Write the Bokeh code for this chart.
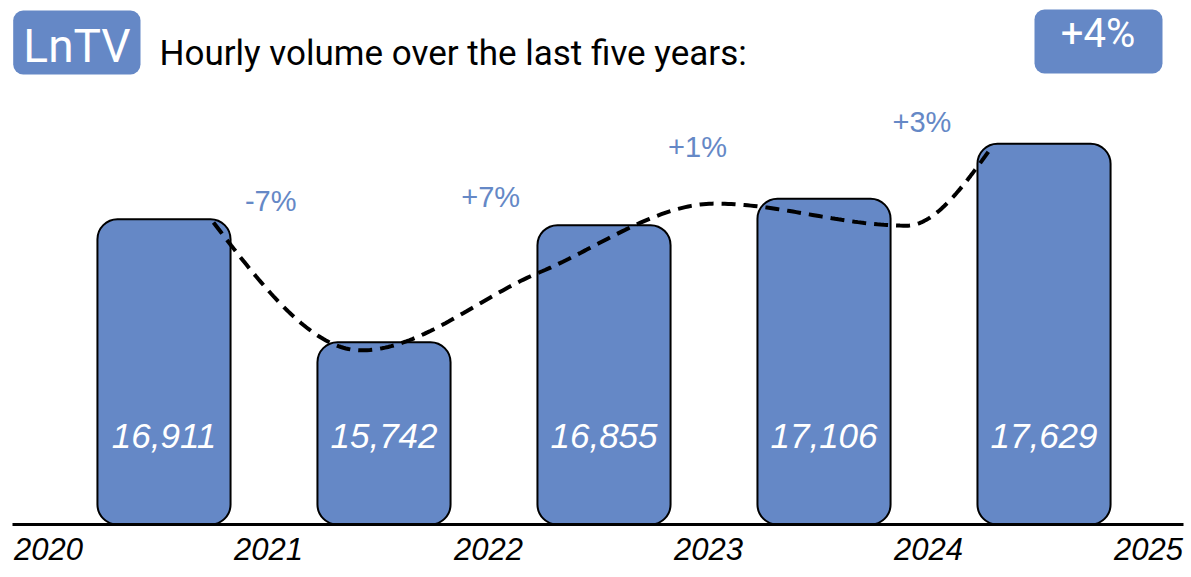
import numpy as np
from bokeh.plotting import figure
from bokeh.layouts import column
from bokeh.models import Range1d, FixedTicker, ColumnDataSource
from bokeh.core.properties import value
from bokeh.embed import file_html
from bokeh.resources import INLINE

# ---------------- data ----------------
years = ["2020", "2021", "2022", "2023", "2024", "2025"]
volumes = [16911, 15742, 16855, 17106, 17629]
brand = "LnTV"
title = "Hourly volume over the last five years:"
# trend curve knots (x in year units, y in hours)
trend_x = [0.75, 1.42, 2.23, 3.03, 3.90, 4.29]
trend_y = [16880, 15665, 16405, 17060, 16850, 17605]

# ---------------- layout / style ----------------
BLUE = "#6588C6"
W = 1191
HEAD_H = 90
MAIN_H = 484
LEFT, RIGHT = 12, 8
Y0 = 14010
bar_shift = 0.525
pct_pos_x = [1.01, 2.01, 2.95, 3.97]
pct_pos_y = [17085, 17120, 17596, 17833]

changes = [f"{round((volumes[i+1] / volumes[i] - 1) * 100):+d}%" for i in range(len(volumes) - 1)]
overall = f"{round((volumes[-1] / volumes[0] - 1) * 100):+d}%"


def monotone(xs, ys, n=60):
    xs = np.asarray(xs, float)
    ys = np.asarray(ys, float)
    h = np.diff(xs)
    s = np.diff(ys) / h
    m = np.zeros_like(xs)
    for i in range(1, len(xs) - 1):
        if s[i - 1] * s[i] <= 0:
            m[i] = 0.0
        else:
            p = (s[i - 1] * h[i] + s[i] * h[i - 1]) / (h[i - 1] + h[i])
            m[i] = 2 * np.sign(s[i]) * min(abs(s[i - 1]), abs(s[i]), 0.5 * abs(p))
    m[0] = (3 * s[0] - m[1]) / 2
    m[-1] = (3 * s[-1] - m[-2]) / 2
    ox, oy = [], []
    for i in range(len(xs) - 1):
        t = np.linspace(0, 1, n)
        h00 = 2 * t**3 - 3 * t**2 + 1
        h10 = t**3 - 2 * t**2 + t
        h01 = -2 * t**3 + 3 * t**2
        h11 = t**3 - t**2
        yy = h00 * ys[i] + h10 * h[i] * m[i] + h01 * ys[i + 1] + h11 * h[i] * m[i + 1]
        xx = xs[i] + t * h[i]
        ox.extend(xx.tolist())
        oy.extend(yy.tolist())
    return ox, oy


# ---------------- header ----------------
hd = figure(width=W, height=HEAD_H, x_range=Range1d(LEFT, W - RIGHT), y_range=Range1d(0, HEAD_H),
            output_backend="svg", toolbar_location=None,
            min_border_left=LEFT, min_border_right=RIGHT, min_border_top=0, min_border_bottom=0,
            x_axis_location=None, y_axis_location=None)
hd.outline_line_color = None
hd.grid.visible = False
hd.quad(left=[12.7, 1034], right=[140, 1162], bottom=[16, 17], top=[80, 81],
        fill_color=BLUE, line_color=None, border_radius=10)
hd.text(x=[76.5], y=[45], text=[brand], text_color="white",
        text_font=value("Roboto"), text_font_size="46px",
        text_align="center", text_baseline="alphabetic")
hd.text(x=[159], y=[37], text=[title], text_color="black",
        text_font=value("Roboto"), text_font_size="35px",
        text_align="left", text_baseline="alphabetic")
hd.text(x=[1097.5], y=[57.5], text=[overall], text_color="white",
        text_font=value("Roboto"), text_font_size="40px",
        text_align="center", text_baseline="alphabetic")

# ---------------- chart ----------------
p = figure(width=W, height=MAIN_H, x_range=Range1d(-0.1636, 5.159), y_range=Range1d(Y0, 18135),
           output_backend="svg", toolbar_location=None,
           min_border_left=LEFT, min_border_right=RIGHT, min_border_top=0,
           min_border_bottom=MAIN_H - 434, y_axis_location=None)
p.outline_line_color = None
p.grid.visible = False

bx = [i + bar_shift for i in range(len(volumes))]
src = ColumnDataSource(dict(x=bx, top=volumes, label=[f"{v:,}" for v in volumes]))
p.vbar(x="x", top="top", bottom=Y0, width=0.605, source=src,
       fill_color=BLUE, line_color="black", line_width=2, border_radius=20)

p.text(x="x", y=Y0, text="label", source=src, y_offset=-89,
       text_color="white", text_font=value("Liberation Sans"), text_font_style="italic",
       text_font_size="35px", text_align="center", text_baseline="alphabetic")

cx, cy = monotone(trend_x, trend_y)
p.line(cx, cy, line_color="black", line_width=4, line_dash="14 8")

p.text(x=pct_pos_x, y=pct_pos_y, text=changes, text_color=BLUE,
       text_font=value("Liberation Sans"), text_font_size="29px",
       text_align="center", text_baseline="alphabetic")

ax = p.xaxis[0]
ax.ticker = FixedTicker(ticks=list(range(len(years))))
ax.major_label_overrides = {i: y for i, y in enumerate(years)}
ax.axis_line_width = 3
ax.axis_line_color = "black"
ax.major_tick_line_color = None
ax.minor_tick_line_color = None
ax.major_label_text_font = "Liberation Sans"
ax.major_label_text_font_style = "italic"
ax.major_label_text_font_size = "31px"
ax.major_label_text_color = "black"
ax.major_label_standoff = 7

layout = column(hd, p, spacing=0)
open("out.html", "w").write(file_html(layout, INLINE))
